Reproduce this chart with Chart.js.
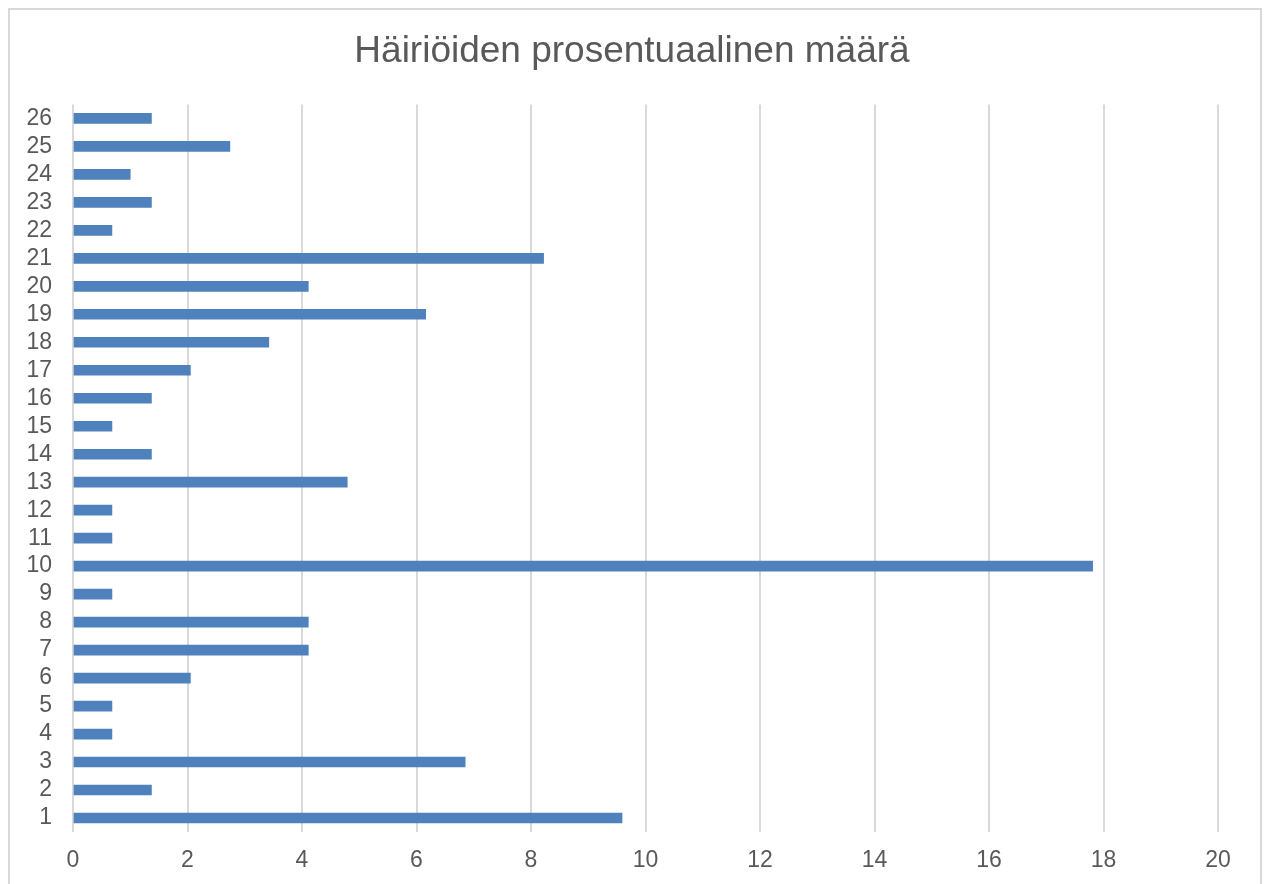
<!DOCTYPE html>
<html>
<head>
<meta charset="utf-8">
<script src="https://cdn.jsdelivr.net/npm/chart.js@4/dist/chart.umd.min.js"></script>
<style>
  html,body{margin:0;padding:0;background:#fff;overflow:hidden}
  #frame{position:absolute;left:8px;top:8px;width:1250px;height:900px;border:2px solid #d9d9d9}
  #wrap{position:absolute;left:0;top:0;width:1264px;height:884px}
</style>
</head>
<body>
<div id="frame"></div>
<div id="wrap"><canvas id="ch-hairiot"></canvas></div>
<script>
// data
const categories = ['1','2','3','4','5','6','7','8','9','10','11','12','13','14','15','16','17','18','19','20','21','22','23','24','25','26'];
const percentages = [9.59,1.37,6.85,0.68,0.68,2.05,4.11,4.11,0.68,17.81,0.68,0.68,4.79,1.37,0.68,1.37,2.05,3.42,6.16,4.11,8.22,0.68,1.37,1.00,2.74,1.37];
const xTicks = [0,2,4,6,8,10,12,14,16,18,20];
const chartTitle = 'Häiriöiden prosentuaalinen määrä';

const GREY = '#595959';
const FONT = "'Liberation Sans', Arial, sans-serif";

new Chart(document.getElementById('ch-hairiot'), {
  type:'bar',
  data:{
    labels:categories,
    datasets:[{
      data:percentages,
      backgroundColor:'#4F81BD',
      borderWidth:0,
      barThickness:10
    }]
  },
  options:{
    indexAxis:'y',
    responsive:true, maintainAspectRatio:false, animation:false,
    layout:{padding:0},
    plugins:{
      legend:{display:false},
      tooltip:{enabled:false},
      title:{
        display:true, text:chartTitle, color:GREY,
        font:{family:FONT,size:37,weight:'normal'},
        padding:{top:30,bottom:30}
      }
    },
    scales:{
      x:{
        min:xTicks[0], max:xTicks[xTicks.length-1],
        grid:{color:'#d9d9d9',lineWidth:2,drawTicks:false},
        border:{display:false},
        ticks:{stepSize:xTicks[1]-xTicks[0],padding:15,color:GREY,font:{family:FONT,size:23}},
        afterFit:s=>{s.width;s.height=52;}
      },
      y:{
        reverse:true,
        grid:{display:false,drawTicks:false},
        border:{display:false},
        ticks:{padding:21,color:GREY,font:{family:FONT,size:23},autoSkip:false},
        afterFit:s=>{s.width=73;}
      },
      // empty right axis = right margin, keeps the title centred on the canvas
      yRight:{
        type:'category', position:'right',
        grid:{display:false,drawTicks:false},
        border:{display:false},
        ticks:{display:false},
        afterFit:s=>{s.width=46;}
      }
    }
  }
});
</script>
</body>
</html>
